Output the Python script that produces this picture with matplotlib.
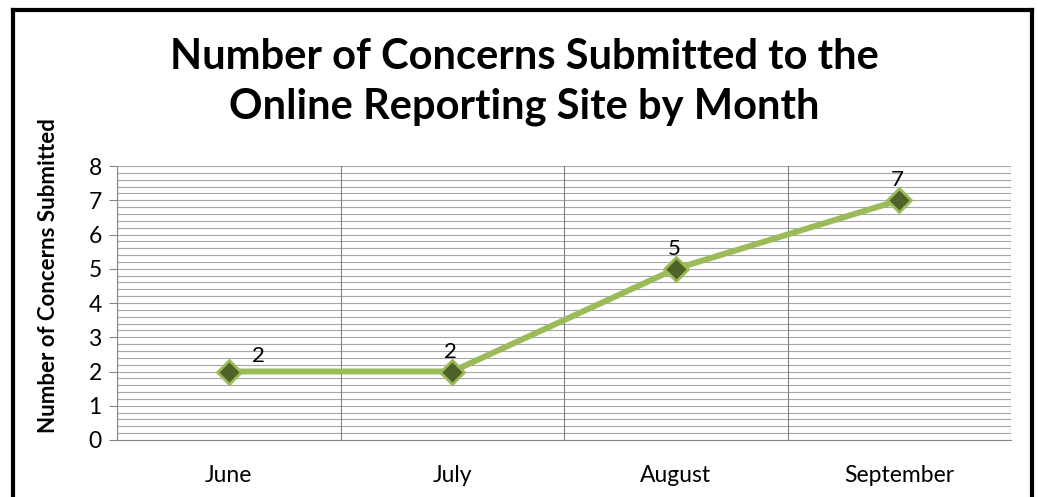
import matplotlib
matplotlib.use("Agg")
import matplotlib.pyplot as plt
from matplotlib.lines import Line2D
from matplotlib.ticker import MultipleLocator

months = ["June", "July", "August", "September"]
concerns = [2, 2, 5, 7]
y_ticks = [0, 1, 2, 3, 4, 5, 6, 7, 8]

plt.rcParams['font.family'] = ['Lato', 'DejaVu Sans']

fig = plt.figure(figsize=(10.38, 4.97), dpi=100)
ax = fig.add_axes([117 / 1038, 1 - 440 / 497, (1011 - 117) / 1038, (440 - 166) / 497])

x = list(range(len(months)))
ax.plot(x, concerns, color='#9BBB59', lw=4.3, marker='D', markersize=12.5,
        markerfacecolor='#4F6228', markeredgecolor='#9BBB59', markeredgewidth=2,
        zorder=3, solid_capstyle='round')

# data labels: first one sits to the upper right, the rest above
for i, v in enumerate(concerns):
    if i == 0:
        ax.annotate(str(v), (i, v), xytext=(30, 6), textcoords='offset pixels',
                    ha='center', va='bottom', fontsize=16)
    else:
        ax.annotate(str(v), (i, v), xytext=(-2, 10), textcoords='offset pixels',
                    ha='center', va='bottom', fontsize=16)

ax.set_xlim(-0.5, len(months) - 0.5)
ax.set_ylim(0, 8)
ax.set_yticks(y_ticks)
ax.yaxis.set_minor_locator(MultipleLocator(0.2))
ax.set_xticks(x)
ax.set_xticklabels(months, fontsize=16.5)
ax.tick_params(axis='x', length=0, pad=18)
ax.tick_params(axis='y', which='major', length=6, color='#868686', labelsize=16.5, pad=5)
ax.tick_params(axis='y', which='minor', length=0)

ax.grid(True, axis='y', which='both', color='#A6A6A6', lw=0.8)
for b in range(len(months) + 1):
    ax.axvline(b - 0.5, color='#808080', lw=0.8, zorder=1)
for s in ['top', 'right']:
    ax.spines[s].set_visible(False)
ax.spines['left'].set_color('#868686')
ax.spines['bottom'].set_color('#868686')
ax.set_axisbelow(True)

ax.set_ylabel("Number of Concerns Submitted", fontsize=16, fontweight='bold')
ax.yaxis.set_label_coords(-58 / 894, 0.6)

fig.text(524 / 1038, 1 - 82 / 497, "Number of Concerns Submitted to the\nOnline Reporting Site by Month",
         ha='center', va='center', fontsize=30, fontweight='bold', linespacing=1.4)

# black frame around the chart (bottom edge is cut off)
W, H = 1038, 497
frame = dict(color='black', lw=3, solid_capstyle='projecting')
fig.add_artist(Line2D([13 / W, 13 / W], [0, 1 - 10 / H], **frame))
fig.add_artist(Line2D([13 / W, 1032 / W], [1 - 10 / H, 1 - 10 / H], **frame))
fig.add_artist(Line2D([1032 / W, 1032 / W], [0, 1 - 10 / H], **frame))

fig.savefig("out.png", dpi=100)
